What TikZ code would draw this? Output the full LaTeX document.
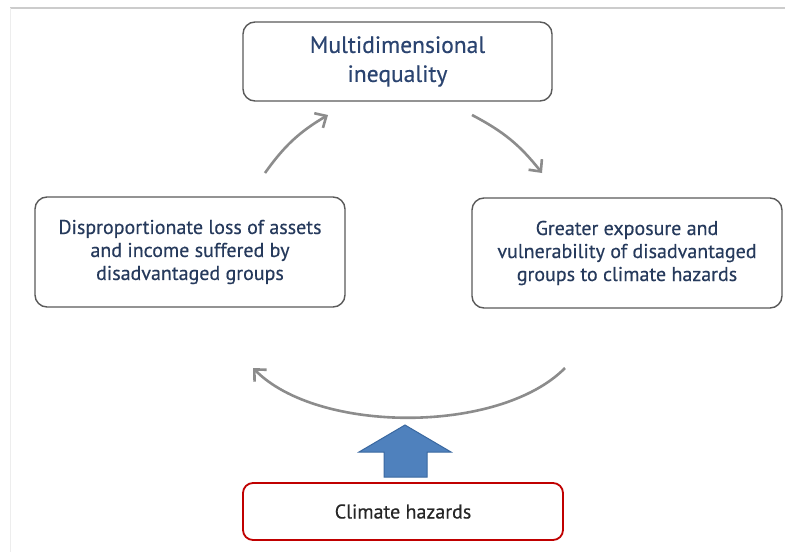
\documentclass[tikz,border=0pt]{standalone}
\usepackage{fontspec}
\setmainfont{PT Sans}
\newfontfamily\boxfont{PT Sans}[FakeBold=0.35]
\usetikzlibrary{arrows.meta}
\definecolor{boxline}{HTML}{5A5A5A}
\definecolor{navy}{HTML}{263A5C}
\definecolor{titleblue}{HTML}{2B4470}
\definecolor{arrowgray}{HTML}{8C8C8C}
\definecolor{hazred}{HTML}{C00000}
\definecolor{bluefill}{HTML}{4F81BD}
\definecolor{blueline}{HTML}{3A68A0}
\tikzset{
  cyclebox/.style={draw=boxline, line width=1.4pt, rounded corners=12pt, fill=white,
    align=center, text=navy, font=\boxfont\fontsize{20}{23}\selectfont, inner sep=0pt},
  flowarrow/.style={draw=arrowgray, line width=2.6pt,
    -{Straight Barb[length=9pt,width=17pt,line width=2.6pt]}},
}
\begin{document}
\begin{tikzpicture}[x=1pt,y=-1pt]
\useasboundingbox (0,0) rectangle (785,552);
\fill[white] (0,0) rectangle (785,552);
% faint frame lines
\draw[color=black!20, line width=2pt] (10,7.5) -- (785,7.5);
\draw[color=black!7, line width=1pt] (10,8) -- (10,552);

\node[cyclebox, minimum width=309pt, minimum height=79pt, text=titleblue,
  font=\boxfont\fontsize{23.5}{29}\selectfont] (ineq) at (397.5,61.5) {Multidimensional\\inequality};
\node[cyclebox, minimum width=310pt, minimum height=110pt] (loss) at (190,252)
  {Disproportionate loss of assets\\and income suffered by\\disadvantaged groups};
\node[cyclebox, minimum width=310pt, minimum height=110pt] (expo) at (627,253)
  {Greater exposure and\\vulnerability of disadvantaged\\groups to climate hazards};
\node[draw=hazred, line width=1.8pt, rounded corners=10pt, minimum width=320pt,
  minimum height=57pt, inner sep=0pt, text=black!85, font=\boxfont\fontsize{20}{23}\selectfont]
  (haz) at (403,511.5) {Climate hazards};

% arrow end points
\coordinate (l1) at (265,173);
\coordinate (l2) at (328,115);
\coordinate (r1) at (472,115);
\coordinate (r2) at (542,173);
\coordinate (b1) at (565,368);
\coordinate (b2) at (253,368);

\draw[flowarrow] (l1) to[bend left=12] (l2);
\draw[flowarrow] (r1) to[bend left=12] (r2);
\draw[flowarrow] (b1) .. controls (500,434) and (318,434) .. (b2);

% block arrow from hazards
\draw[fill=bluefill, draw=blueline, line width=1pt, line join=miter]
  (405,425) -- (451,452) -- (427,452) -- (427,477) -- (384,477) -- (384,452) -- (359,452) -- cycle;
\end{tikzpicture}
\end{document}
